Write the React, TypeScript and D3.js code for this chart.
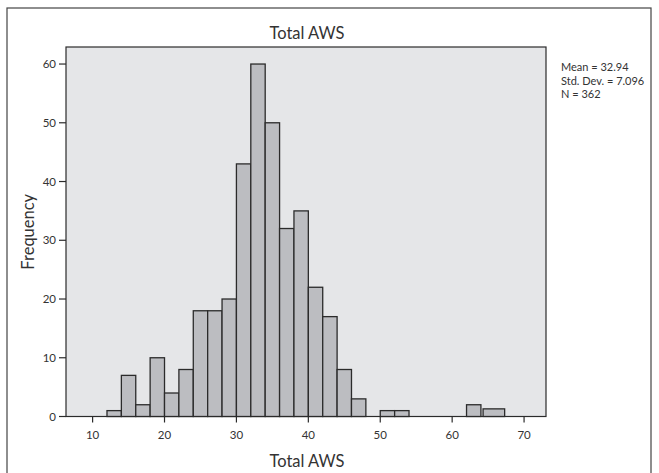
import React from 'react'
import * as d3 from 'd3'

// histogram bins (bin width 2, last one wider)
const binLo = [12, 14, 16, 18, 20, 22, 24, 26, 28, 30, 32, 34, 36, 38, 40, 42, 44, 46, 50, 52, 62, 64.3]
const binHi = [14, 16, 18, 20, 22, 24, 26, 28, 30, 32, 34, 36, 38, 40, 42, 44, 46, 48, 52, 54, 64, 67.3]
const counts = [1, 7, 2, 10, 4, 8, 18, 18, 20, 43, 60, 50, 32, 35, 22, 17, 8, 3, 1, 1, 2, 1.3]
const xTicks = [10, 20, 30, 40, 50, 60, 70]
const yTicks = [0, 10, 20, 30, 40, 50, 60]
const stats = ['Mean = 32.94', 'Std. Dev. = 7.096', 'N = 362']

const W = 659
const H = 473
const plot = { left: 66, top: 47, right: 546, bottom: 416.5 }
const font = 'Lato, "Noto Sans", sans-serif'
const ink = '#333'

export default function App() {
  const x = d3.scaleLinear().domain([6.3, 73.05]).range([plot.left, plot.right])
  const y = d3.scaleLinear().domain([0, 62.9]).range([plot.bottom, plot.top])

  const bins = counts.map((c, i) => ({ x0: binLo[i], x1: binHi[i], n: c }))

  return (
    <svg width={W} height={H} style={{ position: 'absolute', left: 0, top: 0, background: '#fff' }}>
      {/* outer frame */}
      <rect x={7} y={8} width={644} height={480} fill="#fff" stroke="#444" strokeWidth={1.2} />

      <text x={307} y={39} textAnchor="middle" fontFamily={font} fontSize={16.5} fill={ink}>Total AWS</text>

      <rect x={plot.left} y={plot.top} width={plot.right - plot.left} height={plot.bottom - plot.top}
        fill="#e5e6e8" stroke="#2b2b2b" strokeWidth={1.2} />

      {bins.map((b, i) => (
        <rect key={i} x={x(b.x0)} y={y(b.n)} width={x(b.x1) - x(b.x0)} height={y(0) - y(b.n)}
          fill="#bcbdc1" stroke="#2b2b2b" strokeWidth={1.3} />
      ))}

      {/* x axis */}
      {xTicks.map(t => (
        <g key={t}>
          <line x1={x(t)} x2={x(t)} y1={plot.bottom} y2={plot.bottom + 6} stroke="#2b2b2b" strokeWidth={1.2} />
          <text x={x(t)} y={plot.bottom + 22.5} textAnchor="middle" fontFamily={font} fontSize={11.5} fill={ink}>{t}</text>
        </g>
      ))}
      <text x={307} y={467} textAnchor="middle" fontFamily={font} fontSize={16.5} fill={ink}>Total AWS</text>

      {/* y axis */}
      {yTicks.map(t => (
        <g key={t}>
          <line x1={plot.left - 7} x2={plot.left} y1={y(t)} y2={y(t)} stroke="#2b2b2b" strokeWidth={1.2} />
          <text x={plot.left - 10} y={y(t) + 4} textAnchor="end" fontFamily={font} fontSize={11.5} fill={ink}>{t}</text>
        </g>
      ))}
      <text transform={`translate(34,${(plot.top + plot.bottom) / 2}) rotate(-90)`} textAnchor="middle"
        fontFamily={font} fontSize={16.5} fill={ink}>Frequency</text>

      {stats.map((s, i) => (
        <text key={s} x={561} y={71 + i * 13.5} fontFamily={font} fontSize={11} fill={ink}>{s}</text>
      ))}
    </svg>
  )
}
